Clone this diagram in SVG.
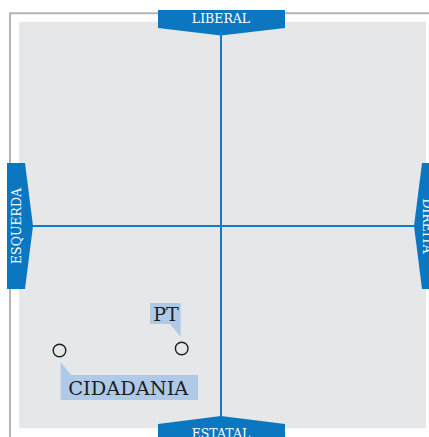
<svg xmlns="http://www.w3.org/2000/svg" width="429" height="437" viewBox="0 0 429 437">
<style>
.frame{fill:none;stroke:#b4b4b4;stroke-width:2}
.axis{stroke:#137bc3;stroke-width:2;fill:none}
.tab{fill:#0b77c1}
.tabtxt{font-family:"DejaVu Serif",serif;font-size:12.5px;fill:#ffffff;text-anchor:middle}
.callout{fill:#aecae8}
.lbl{font-family:"DejaVu Serif",serif;font-size:19px;fill:#1e1e1e}
.pt{fill:none;stroke:#1e1e1e;stroke-width:1.4}
</style>
<rect width="429" height="437" fill="#ffffff"/>
<path class="frame" d="M10,437 V13.3 H429"/>
<rect x="19" y="21.7" width="407" height="406.5" fill="#e6e7e9"/>
<g id="connectors">
<line class="axis" x1="221" y1="34" x2="221" y2="417"/>
<line class="axis" x1="32" y1="226" x2="415" y2="226"/>
</g>
<g id="liberal">
<polygon class="tab" points="158,10 285,10 285,28 221,35.5 158,28"/>
<text class="tabtxt" x="221" y="23.3">LIBERAL</text>
</g>
<g id="estatal">
<polygon class="tab" points="158,424 221,416 285,424 285,445 158,445"/>
<text class="tabtxt" x="221" y="438">ESTATAL</text>
</g>
<g id="esquerda">
<polygon class="tab" points="7,163 25,163 33,226 25,289 7,289"/>
<text class="tabtxt" transform="translate(21,226) rotate(-90)">ESQUERDA</text>
</g>
<g id="direita">
<polygon class="tab" points="422,163 440,163 440,289 422,289 414,226"/>
<text class="tabtxt" transform="translate(423,226) rotate(90)">DIREITA</text>
</g>
<g id="pt">
<polygon class="callout" points="150,303 180.7,303 180.7,337 170,324 150,324"/>
<text class="lbl" x="153.3" y="320.7">PT</text>
<circle class="pt" cx="181.7" cy="348.5" r="6.3"/>
</g>
<g id="cidadania">
<polygon class="callout" points="60.7,362 71,375 198,375 198,400 60.7,400"/>
<text class="lbl" x="68.3" y="395" textLength="120" lengthAdjust="spacingAndGlyphs">CIDADANIA</text>
<circle class="pt" cx="59.5" cy="350.5" r="6.3"/>
</g>
</svg>
